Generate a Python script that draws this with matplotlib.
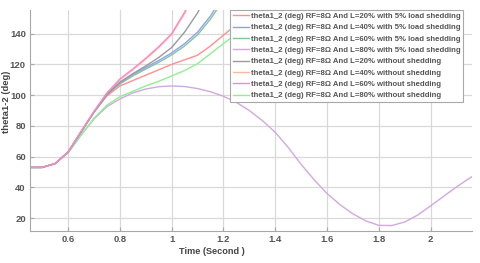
import matplotlib
matplotlib.use("Agg")
import matplotlib.pyplot as plt

plt.rcParams['font.family'] = ['Liberation Sans', 'DejaVu Sans']

# time axis (s) shared by every trace, each trace uses as many points as it has values
time = [0.45, 0.50, 0.55, 0.60, 0.65, 0.70, 0.75, 0.80, 0.85, 0.90, 0.95,
        1.00, 1.05, 1.10, 1.15, 1.20, 1.25, 1.30, 1.35, 1.40, 1.45, 1.50,
        1.55, 1.60, 1.65, 1.70, 1.75, 1.80, 1.85, 1.90, 1.95, 2.00, 2.05,
        2.10, 2.15, 2.16]

# theta1_2 (deg), with 5% load shedding
shed_20 = [53, 53, 55.5, 63, 76, 89, 99.5, 106, 109.5, 113, 116.5, 120, 123,
           126, 132, 139, 146, 154, 163]
shed_40 = [53, 53, 55.5, 63, 76, 89, 100.5, 108, 113.5, 118, 122.5, 127.5,
           133.5, 141, 151.5, 165]
shed_60 = [53, 53, 55.5, 63, 76, 89, 100.3, 107.3, 112.5, 117, 121.3, 126.2,
           132, 139.3, 149.5, 162]
shed_80 = [53, 53, 55.5, 62.5, 74, 84.5, 92.5, 97.5, 101.5, 104, 105.5, 106,
           105.6, 104.3, 102.2, 99.3, 95.3, 90, 83.5, 75.8, 66, 55, 45, 36,
           28.8, 22.8, 18.2, 15.3, 15.2, 17.5, 22, 28, 34.2, 40.3, 46, 47]
# theta1_2 (deg), without shedding
noshed_20 = [53, 53, 55.5, 63, 76, 89, 100.5, 108.5, 114, 119, 124.5, 131,
             141, 153.5, 170]
noshed_40 = [53, 53, 55.5, 63, 76, 89, 101, 110, 116.5, 123.5, 131, 139.5,
             153, 171]
noshed_60 = [53, 53, 55.5, 63, 76.5, 89.5, 101.5, 110.5, 117, 124, 131.5,
             140, 154, 172]
noshed_80 = [53, 53, 55.5, 62.5, 74, 85, 93.5, 99, 102.5, 106, 109, 112.5,
             116, 120.5, 127, 133.5, 140, 148, 157]

labels = ["theta1_2 (deg) RF=8\u03a9 And L=20% with 5% load shedding",
          "theta1_2 (deg) RF=8\u03a9 And L=40% with 5% load shedding",
          "theta1_2 (deg) RF=8\u03a9 And L=60% with 5% load shedding",
          "theta1_2 (deg) RF=8\u03a9 And L=80% with 5% load shedding",
          "theta1_2 (deg) RF=8\u03a9 And L=20% without shedding",
          "theta1_2 (deg) RF=8\u03a9 And L=40% without shedding",
          "theta1_2 (deg) RF=8\u03a9 And L=60% without shedding",
          "theta1_2 (deg) RF=8\u03a9 And L=80% without shedding"]
series = [shed_20, shed_40, shed_60, shed_80,
          noshed_20, noshed_40, noshed_60, noshed_80]
colors = ["#ff8f8f", "#8f9fff", "#80c890", "#d2a8e0",
          "#9a9a9a", "#ffb89a", "#ff88c8", "#90f090"]
zorders = [2, 2.2, 2.1, 2, 2.3, 2, 2.4, 2]

fig = plt.figure(figsize=(4.8, 2.63), dpi=100)
ax = fig.add_axes([0.0625, 0.122, 0.921, 0.84])

for vals, c, lab, z in zip(series, colors, labels, zorders):
    ax.plot(time[:len(vals)], vals, color=c, lw=1.0, label=lab, zorder=z)

ax.set_xlim(0.453, 2.16)
ax.set_ylim(11.7, 155.4)
ax.set_xticks([0.6, 0.8, 1.0, 1.2, 1.4, 1.6, 1.8, 2.0])
ax.set_xticklabels(["0.6", "0.8", "1", "1.2", "1.4", "1.6", "1.8", "2"])
ax.set_yticks([20, 40, 60, 80, 100, 120, 140])
ax.grid(True, color="#d9d9d9", lw=0.9)
ax.set_axisbelow(True)
for s in ["top", "right"]:
    ax.spines[s].set_visible(False)
for s in ["left", "bottom"]:
    ax.spines[s].set_color("#a8a8a8")
ax.tick_params(direction="in", length=3, colors="#a8a8a8", labelcolor="#555555",
               labelsize=6.8, pad=3)
for t in ax.get_xticklabels() + ax.get_yticklabels():
    t.set_fontweight("bold")

ax.set_xlabel("Time (Second )", fontsize=6.6, fontweight="bold", color="#444444")
ax.xaxis.set_label_coords(0.412, -0.072)
ax.set_ylabel("theta1-2 (deg)", fontsize=6.8, fontweight="bold", color="#444444")
ax.yaxis.set_label_coords(-0.044, 0.584)

leg = ax.legend(loc="upper right", bbox_to_anchor=(0.98, 1.0), borderaxespad=0,
                prop={"size": 5.6, "weight": "bold"}, fancybox=False,
                framealpha=1, edgecolor="#a8a8a8",
                handlelength=2.0, handletextpad=0.3, labelspacing=0.5,
                borderpad=0.35)
leg.set_zorder(5)
for t in leg.get_texts():
    t.set_color("#555555")
leg.get_frame().set_linewidth(0.8)

fig.savefig("out.png", dpi=100)
